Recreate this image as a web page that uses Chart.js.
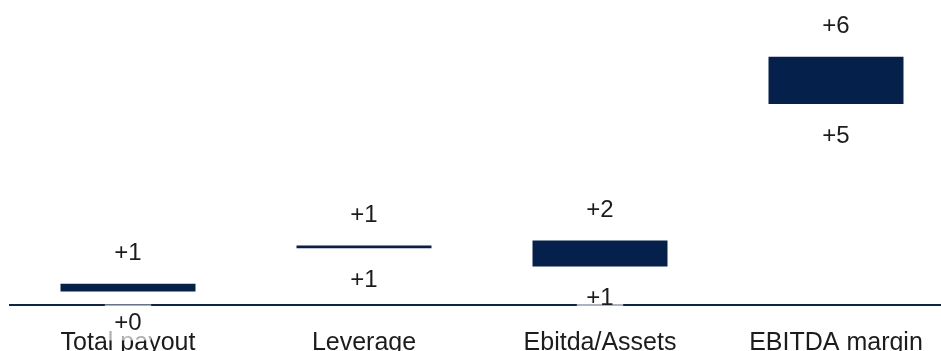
<!DOCTYPE html>
<html>
<head>
<meta charset="utf-8">
<script src="https://cdn.jsdelivr.net/npm/chart.js@4"></script>
<style>
  html, body { margin: 0; padding: 0; background: #fff; overflow: hidden; }
  #wrap { position: absolute; left: 0; top: 0; width: 954px; height: 381px; }
</style>
</head>
<body>
<div id="wrap"><canvas id="chart"></canvas></div>
<script>
const categories = ['Total payout', 'Leverage', 'Ebitda/Assets', 'EBITDA margin'];
const startValues = [0.33, 1.38, 0.94, 4.89];
const endValues = [0.52, 1.45, 1.57, 6.04];

const BAR_COLOR = '#05204a';
const TEXT_COLOR = '#1c1c1c';
const fmtDelta = v => '+' + Math.round(v);

// start value under the bar, end value above it
const floatingLabelsPlugin = {
  id: 'floatingLabels',
  afterDraw(chart) {
    const ctx = chart.ctx;
    const meta = chart.getDatasetMeta(0);
    ctx.save();
    ctx.font = '24px "Liberation Sans", Arial, sans-serif';
    ctx.textAlign = 'center';
    ctx.textBaseline = 'middle';
    meta.data.forEach((bar, i) => {
      const top = Math.min(bar.y, bar.base);
      const bottom = Math.max(bar.y, bar.base);
      const lo = fmtDelta(startValues[i]);
      const hi = fmtDelta(endValues[i]);
      const w = ctx.measureText(lo).width + 19;
      ctx.fillStyle = 'rgba(255,255,255,0.65)';
      ctx.fillRect(bar.x - w / 2, bottom + 31 - 18, w, 36);
      ctx.fillStyle = TEXT_COLOR;
      ctx.fillText(lo, bar.x, bottom + 32);
      ctx.fillText(hi, bar.x, top - 30);
    });
    ctx.restore();
  }
};

new Chart(document.getElementById('chart'), {
  type: 'bar',
  plugins: [floatingLabelsPlugin],
  data: {
    labels: categories,
    datasets: [{
      data: categories.map((_, i) => [startValues[i], endValues[i]]),
      backgroundColor: BAR_COLOR,
      borderWidth: 0,
      barPercentage: 0.572,
      categoryPercentage: 1,
    }]
  },
  options: {
    responsive: true, maintainAspectRatio: false,
    animation: false,
    layout: { padding: { top: 1, right: 0, bottom: 0, left: 10 } },
    plugins: { legend: { display: false }, tooltip: { enabled: false } },
    scales: {
      x: {
        grid: { display: false, drawTicks: false },
        border: { display: true, color: '#0b2550', width: 2 },
        ticks: {
          padding: 23,
          color: TEXT_COLOR,
          font: { family: '"Liberation Sans", Arial, sans-serif', size: 25 },
          maxRotation: 0,
        },
      },
      y: {
        display: false,
        min: 0,
        max: 7.4,
      }
    }
  }
});
</script>
</body>
</html>
